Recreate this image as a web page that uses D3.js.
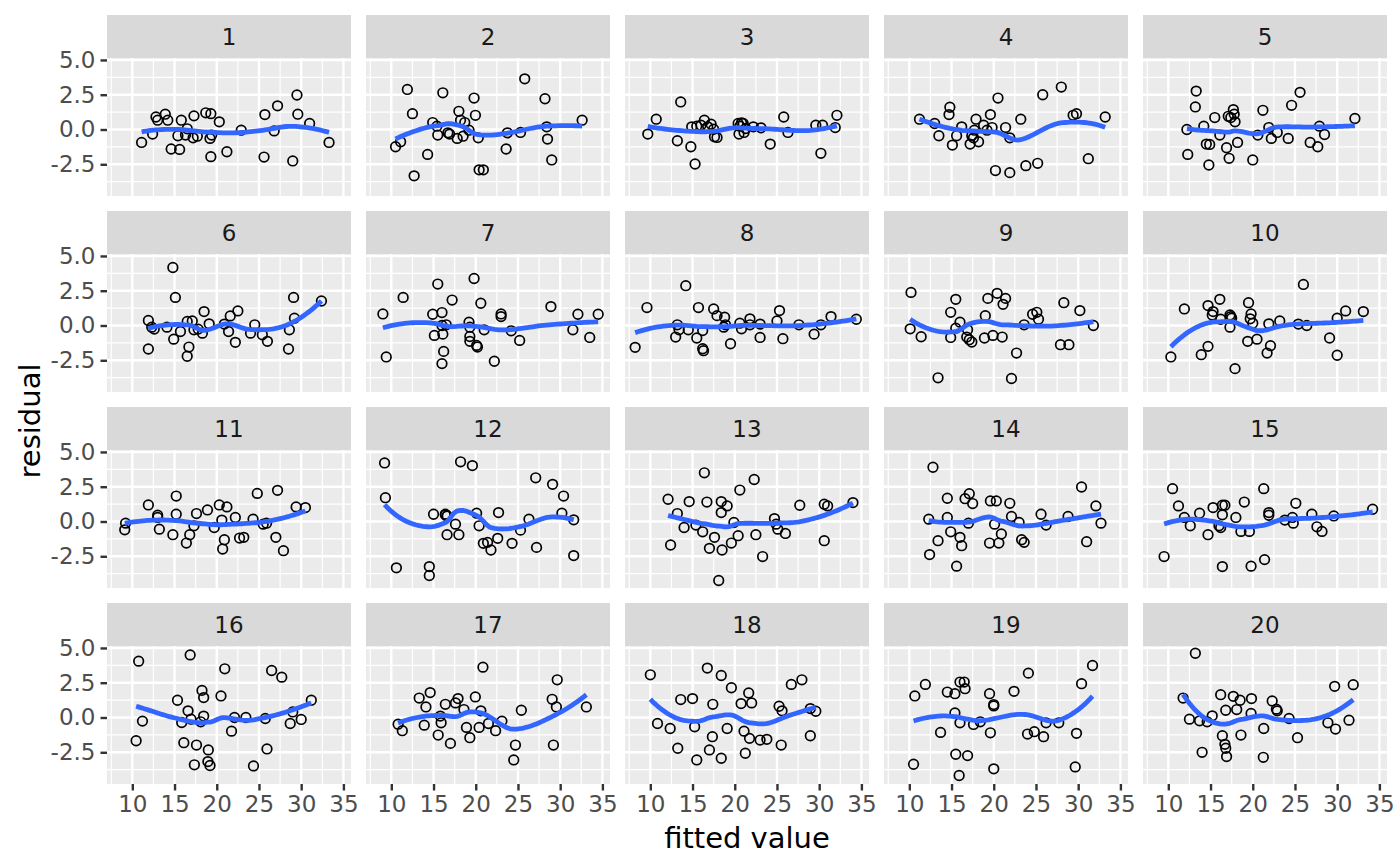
<!DOCTYPE html>
<html>
<head>
<meta charset="utf-8">
<script src="https://cdn.jsdelivr.net/npm/d3@7"></script>
<style>
  html, body { margin: 0; padding: 0; background: #ffffff; }
  svg { display: block; font-family: "DejaVu Sans", sans-serif; }
</style>
</head>
<body>
<svg id="chart" width="1400" height="866"></svg>
<script>
// ---------------- data ----------------
const panelLabels = ["1","2","3","4","5","6","7","8","9","10","11","12","13","14","15","16","17","18","19","20"];

const xTicks = [10, 15, 20, 25, 30, 35];
const xMinorTicks = [7.5, 12.5, 17.5, 22.5, 27.5, 32.5];
const yTicks = [-2.5, 0, 2.5, 5.0];
const yMinorTicks = [-3.75, -1.25, 1.25, 3.75];

const xTitle = "fitted value";
const yTitle = "residual";

const fittedValues = [
  [11.1,12.4,12.8,13.0,13.9,14.2,14.6,15.6,15.4,15.8,16.3,16.5,17.2,17.3,17.7,18.7,19.3,19.2,19.4,19.3,20.3,21.2,22.9,25.6,25.7,26.8,27.2,29.0,29.5,29.6,31.0,33.3],
  [10.5,11.1,11.9,12.5,12.7,14.3,14.9,15.4,15.5,16.1,16.7,16.9,17.8,18.0,18.2,18.5,18.7,19.2,19.8,19.96,20.3,20.4,20.9,23.6,23.75,25.3,25.8,28.2,28.4,28.5,29.0,32.6],
  [9.7,10.7,13.6,13.2,14.8,15.3,14.9,15.5,16.0,16.4,16.8,17.2,17.5,17.6,17.9,20.4,20.6,20.8,20.5,21.1,21.3,22.2,23.1,24.2,25.8,26.3,29.6,30.2,30.4,32.1,31.9,21.0],
  [11.2,13.0,13.5,14.8,14.7,15.1,15.6,16.2,17.2,17.4,17.7,17.9,18.2,18.8,19.2,19.6,19.8,20.5,20.2,21.4,21.9,21.9,23.2,23.8,25.2,25.8,28.0,29.4,29.8,31.2,33.2,17.6],
  [12.2,12.3,13.3,13.2,14.2,14.5,14.9,14.8,15.5,16.1,16.9,17.2,17.1,17.4,17.7,17.8,17.9,18.2,20.0,20.6,21.2,21.9,22.2,22.9,24.2,24.6,25.6,26.8,27.7,27.9,28.5,32.1],
  [11.9,12.3,12.6,11.9,14.1,14.8,15.1,14.9,15.7,16.5,17.1,16.7,16.5,17.3,18.3,18.5,19.1,20.9,21.4,21.6,22.5,22.2,24.0,24.5,25.4,26.0,28.5,28.6,29.1,29.2,32.4,17.8],
  [9.0,9.4,11.4,14.9,15.5,16.0,15.1,16.0,16.1,16.2,16.0,17.2,19.8,19.2,19.3,19.3,19.3,20.1,20.2,20.6,21.0,22.2,23.0,23.0,24.2,25.2,28.9,31.5,32.1,33.5,34.5,16.5],
  [8.2,9.6,13.0,13.2,13.4,14.2,14.5,15.5,15.7,16.2,16.2,16.3,17.5,17.9,18.8,18.7,18.9,19.5,20.6,20.8,21.8,21.8,23.0,23.0,25.0,25.3,25.7,27.6,29.4,30.2,31.4,34.4],
  [10.2,10.1,11.4,13.4,14.9,14.9,15.5,15.5,16.0,16.9,16.8,17.1,17.4,18.9,19.0,19.3,20.4,21.1,21.4,19.9,21.0,22.1,22.7,23.6,24.6,25.1,25.3,27.9,28.9,28.3,30.2,31.8],
  [10.3,11.9,13.9,14.7,14.7,15.3,15.2,16.1,16.2,17.3,17.5,17.3,17.9,19.5,19.8,19.7,20.0,19.4,20.5,21.9,22.1,21.7,23.2,25.4,26.0,26.4,29.1,30.0,30.0,31.0,33.1,17.4],
  [9.2,9.1,11.9,13.0,13.0,13.2,15.2,15.2,14.8,16.4,16.8,17.3,17.6,18.9,19.7,20.3,21.2,20.6,20.9,20.7,22.2,22.7,23.2,24.3,24.8,25.5,25.9,27.2,27.0,27.9,29.4,30.5],
  [9.2,9.3,10.6,14.5,14.5,15.0,16.4,16.6,17.6,16.6,18.0,18.2,19.6,20.1,20.4,20.9,21.4,21.8,22.6,22.7,24.3,25.3,26.3,27.1,27.2,29.1,30.4,30.2,31.6,31.6,16.4,16.6],
  [12.1,13.2,12.4,14.0,14.6,16.4,15.4,16.2,16.7,17.0,17.6,18.1,18.4,18.4,18.5,19.1,19.6,19.9,20.4,20.6,22.3,22.5,23.3,24.7,24.9,25.1,26.0,27.7,30.6,31.0,30.6,34.0],
  [12.3,12.4,12.8,13.4,14.5,14.5,14.9,15.6,16.0,16.2,16.6,17.1,17.5,17.0,19.5,19.6,20.3,20.1,20.6,20.9,21.9,22.1,23.0,23.3,23.6,25.6,26.2,28.8,30.4,31.0,32.1,32.7],
  [9.5,10.5,11.2,11.9,12.6,13.7,14.7,15.3,16.0,16.2,16.4,16.7,16.4,16.4,18.0,18.6,19.0,19.6,19.8,21.3,21.4,21.9,21.9,23.8,24.7,24.8,25.1,27.0,27.6,28.2,29.6,34.2],
  [10.75,10.45,11.2,15.35,16.85,16.6,15.85,16.95,16.1,17.6,17.35,18.25,18.45,18.45,18.1,19.0,18.95,19.2,20.5,20.95,21.75,22.1,23.45,24.35,25.75,25.95,26.5,27.7,28.7,29.0,30.0,31.2],
  [10.8,11.3,13.3,14.6,14.1,13.9,15.55,15.8,15.9,16.4,17.0,17.6,17.9,18.6,18.9,19.3,19.95,20.4,20.6,20.85,21.5,22.35,23.1,24.7,24.5,25.4,29.05,29.2,29.55,29.65,33.1],
  [10.0,10.85,12.35,13.25,13.6,15.0,15.25,15.5,16.75,17.0,17.35,17.4,18.4,18.4,19.1,19.6,20.75,21.1,21.25,21.65,21.75,22.0,23.0,23.8,25.5,25.25,25.6,26.7,27.95,28.95,29.6,28.95],
  [10.5,10.65,11.9,13.7,14.5,15.4,15.4,15.5,15.9,16.0,16.5,16.6,16.0,16.9,17.6,18.4,19.5,20.0,20.0,19.6,20.0,22.4,24.1,24.0,24.8,25.9,26.2,27.7,29.8,29.65,30.4,31.7],
  [11.75,12.5,13.2,13.7,14.0,14.6,15.2,16.2,16.8,16.4,16.7,16.8,16.9,17.7,18.1,18.5,18.6,19.85,19.8,21.3,21.25,22.3,22.8,22.9,24.3,25.3,28.9,29.8,29.7,31.4,31.9]
];

const residuals = [
  [-0.93,-0.33,0.9,0.67,1.1,0.67,-1.4,-1.43,-0.45,0.67,-0.4,0.05,-0.6,0.98,-0.48,1.2,1.14,-0.64,-0.4,-1.95,0.55,-1.6,-0.05,-1.98,1.07,-0.1,1.7,-2.26,2.48,1.1,0.43,-0.93],
  [-1.24,-0.88,2.88,1.14,-3.33,-1.79,0.5,0.24,-0.4,2.64,-0.24,-0.33,-0.64,1.31,0.67,-0.48,0.5,-0.05,2.26,1.02,-0.6,-2.9,-2.9,-1.4,-0.24,-0.21,3.64,2.21,0.19,-0.69,-2.19,0.67],
  [-0.33,0.74,1.98,-0.81,-1.24,-2.48,0.19,0.24,0.31,0.67,0.19,0.38,0.02,-0.52,-0.57,0.43,0.24,0.48,-0.33,-0.21,0.07,0.19,0.12,-1.05,0.9,-0.21,0.31,-1.71,0.31,1.02,0.14,0.43],
  [0.74,0.43,-0.45,1.6,1.07,-1.12,-0.45,0.19,-1.05,-0.45,-0.05,0.74,-0.88,0.31,-0.05,1.07,0.14,2.26,-2.95,0.14,-0.6,-3.1,0.74,-2.6,-2.43,2.5,3.05,1.02,1.14,-2.1,0.9,-0.6],
  [0,-1.79,2.76,1.62,0.24,-1.05,-1.07,-2.55,0.86,-0.4,-1.31,-2.07,0.95,0.86,1.43,1.1,0.55,-0.93,-2.19,-0.4,1.38,0.14,-0.64,-0.21,-0.64,1.74,2.67,-0.93,-1.24,0.24,-0.36,0.79],
  [0.36,-0.12,-0.26,-1.69,-0.12,4.17,2.02,-0.98,-0.43,0.29,0.33,-1.55,-2.21,-0.31,-0.55,1.0,0.12,0.1,-0.43,0.69,1.05,-1.21,-0.55,0.05,-0.67,-1.14,-1.69,-0.31,2.02,0.52,1.76,-0.26],
  [0.83,-2.26,2.02,0.81,2.98,0.93,-0.71,0,-0.62,-1.86,-2.74,1.83,3.38,0.24,-0.12,-0.79,-1.14,-1.43,-1.55,1.6,-0.31,-2.57,0.83,0.64,-0.38,-1.07,1.36,-0.31,0.81,-0.86,0.81,0.05],
  [-1.57,1.29,-0.83,0.05,-0.31,2.86,-0.31,-0.9,1.29,-0.36,-1.67,-1.81,1.19,0.71,0.6,-0.12,0.05,-1.31,0.17,-0.24,0.48,0.05,0.1,-0.86,0.33,1.07,-0.95,0.05,-0.62,0.05,0.64,0.45],
  [2.38,-0.24,-0.81,-3.76,0.95,-0.86,1.88,-0.19,0.24,-0.31,-0.83,-1.02,-1.19,-0.9,0.71,1.95,2.31,1.52,1.95,-0.71,-0.83,-3.81,-1.98,0.05,0.81,0.95,0.45,-1.38,-1.38,1.64,1.07,0],
  [-2.26,1.19,-2.1,1.43,-1.5,1.0,0.76,1.88,0.45,0.76,0.52,-0.12,-3.1,1.64,0.83,0.48,0.17,-1.14,-0.98,0.12,-1.45,-1.98,0.33,0.1,2.95,0,-0.9,0.52,-2.14,1.05,1.0,0.64],
  [-0.12,-0.6,1.19,0.45,0.29,-0.55,1.83,0.52,-0.95,-1.55,-0.95,-0.31,0.57,0.83,-0.43,1.19,1.05,0.1,-1.31,-1.98,0.29,-1.19,-1.14,0.17,2.02,-0.19,-0.12,2.24,-1.14,-2.1,1.05,1.0],
  [4.21,1.71,-3.33,-3.24,-3.88,0.52,0.52,0.4,-0.19,-0.95,-0.95,4.29,4.02,0.6,-0.31,-1.57,-1.5,-2.05,-1.21,0.64,-1.57,-0.62,0.17,3.14,-1.86,2.67,1.83,0.6,0.12,-2.45,0.48,0.4],
  [1.6,0.57,-1.69,-0.43,1.43,3.5,-0.26,-0.74,1.4,-1.93,-1.14,-4.24,1.43,0.64,-2.05,1.12,-1.55,-0.07,-1.02,2.26,3.02,-0.95,-2.52,0.21,-0.19,-0.55,-0.86,1.17,1.24,1.12,-1.38,1.36],
  [0.17,-2.38,3.9,-1.38,1.67,0.29,-0.74,-3.21,-1.14,-1.74,1.64,2.0,1.29,-0.12,-1.55,1.48,1.48,-0.19,-1.55,-0.9,1.31,0.36,-0.07,-1.31,-1.5,0.52,-0.26,0.36,2.48,-1.45,1.12,-0.12],
  [-2.52,2.36,1.12,0.29,-0.31,0.6,-0.95,1.0,-0.31,-0.43,1.17,1.17,0.48,-3.24,0.29,-0.71,1.4,-0.71,-3.21,2.36,-2.74,0.64,0.45,0.1,0.29,-0.12,1.31,0.52,-0.38,-0.71,0.4,0.88],
  [4.05,-1.67,-0.26,1.24,4.5,0.48,-0.36,-0.12,-1.81,-1.98,-3.4,1.95,1.43,0.1,-0.31,-2.33,-3.17,-3.45,1.55,3.5,-0.98,0,0,-3.48,-0.07,-2.26,3.38,2.9,-0.43,0.4,-0.14,1.24],
  [-0.48,-0.95,1.4,1.79,0.76,-0.55,-1.26,0.1,-0.38,0.95,-1.86,1.05,1.36,0.57,-0.71,-1.45,1.48,-0.71,0.48,3.62,-0.43,-0.95,-0.26,-1.98,-3.05,0.52,1.31,-1.98,0.76,2.71,0.76],
  [3.07,-0.43,-0.79,-2.21,1.29,1.36,-0.67,-3.05,3.55,-2.33,-1.38,0.95,3.02,-2.93,-0.79,2.14,1.0,-0.98,-2.57,1.76,-1.5,1.05,-1.62,-1.57,-1.98,0.81,0.48,2.38,2.71,0.64,0.45,-1.31],
  [-3.36,1.55,2.38,-1.07,1.83,1.71,0.33,-2.64,-4.17,2.55,2.55,2.07,-0.38,-2.74,-0.5,-0.31,1.71,0.93,0.83,-1.1,-3.69,1.88,3.19,-1.19,-1.02,-1.38,-0.38,-0.38,-1.14,-3.55,2.43,3.74],
  [1.4,-0.12,4.62,-0.24,-2.5,-0.31,0.12,1.64,0.52,-1.31,-1.93,-2.21,-2.81,1.52,0.57,1.24,-1.26,1.36,0.29,-0.79,-2.86,1.19,0.6,0.48,-0.07,-1.45,-0.38,-0.83,2.24,-0.19,2.36]
];

// ---------------- layout ----------------
const nCols = 5;
const panelLeft0 = 107, panelW = 244, pitchX = 259;
const stripTop0 = 15, stripH = 43, panelH = 138, pitchY = 196;
const nRows = Math.ceil(panelLabels.length / nCols);

const x = d3.scaleLinear().domain([7.0, 35.9]).range([0, panelW]);
const y = d3.scaleLinear().domain([-4.78, 5.14]).range([panelH, 0]);

// ---------------- loess as in R (degree 2, span 0.75, kd-tree vertices + cubic Hermite) ----------------
function localFit(xs, ys, q, x0) {
  const n = xs.length;
  const d = xs.map(v => Math.abs(v - x0));
  const sorted = d.slice().sort((a, b) => a - b);
  let h = sorted[q - 1];
  if (h <= 0) h = 1e-9;
  let s0=0,s1=0,s2=0,s3=0,s4=0,t0=0,t1=0,t2=0;
  for (let i = 0; i < n; i++) {
    const u = d[i] / h;
    if (u >= 1) continue;
    const w = Math.pow(1 - u*u*u, 3);
    const dx = xs[i] - x0, dx2 = dx*dx;
    s0 += w; s1 += w*dx; s2 += w*dx2; s3 += w*dx2*dx; s4 += w*dx2*dx2;
    t0 += w*ys[i]; t1 += w*dx*ys[i]; t2 += w*dx2*ys[i];
  }
  const det3 = M => M[0][0]*(M[1][1]*M[2][2]-M[1][2]*M[2][1])
                  - M[0][1]*(M[1][0]*M[2][2]-M[1][2]*M[2][0])
                  + M[0][2]*(M[1][0]*M[2][1]-M[1][1]*M[2][0]);
  const A = [[s0,s1,s2],[s1,s2,s3],[s2,s3,s4]];
  const D = det3(A);
  const b0 = det3([[t0,s1,s2],[t1,s2,s3],[t2,s3,s4]]) / D;
  const b1 = det3([[s0,t0,s2],[s1,t1,s3],[s2,t2,s4]]) / D;
  return [b0, b1];
}

function loessR(xs, ys, span, xEval) {
  const n = xs.length;
  const q = Math.floor(n * span + 1e-5);
  const fc = Math.floor(n * span * 0.2);
  const sx = xs.slice().sort((a, b) => a - b);
  const lo = sx[0], hi = sx[n - 1];
  const mu = 0.005 * Math.max(hi - lo, 1e-10 * Math.max(Math.abs(lo), Math.abs(hi)) + 1e-30);
  const verts = [lo - mu, hi + mu];
  (function build(l, u, vl, vu) {
    if (u - l + 1 <= fc) return;
    const m = Math.floor((l + u) / 2);
    const v = sx[m];
    if (v === vl || v === vu) return;
    verts.push(v);
    build(l, m, vl, v);
    build(m + 1, u, v, vu);
  })(0, n - 1, lo - mu, hi + mu);
  verts.sort((a, b) => a - b);
  const vv = verts.map(v => localFit(xs, ys, q, v));
  return xEval.map(x0 => {
    let j = 0;
    while (j < verts.length - 2 && x0 > verts[j + 1]) j++;
    const v0 = verts[j], v1 = verts[j + 1], hh = v1 - v0;
    const t = (x0 - v0) / hh;
    const phi0 = (1 - t) * (1 - t) * (1 + 2 * t);
    const phi1 = t * t * (3 - 2 * t);
    const psi0 = t * (1 - t) * (1 - t);
    const psi1 = -t * t * (1 - t);
    return phi0 * vv[j][0] + phi1 * vv[j + 1][0] + (psi0 * vv[j][1] + psi1 * vv[j + 1][1]) * hh;
  });
}

// ---------------- drawing ----------------
const svg = d3.select("#chart");
svg.append("rect").attr("width", 1400).attr("height", 866).attr("fill", "#ffffff");

panelLabels.forEach((label, i) => {
  const col = i % nCols, row = Math.floor(i / nCols);
  const px = panelLeft0 + col * pitchX;
  const stripY = stripTop0 + row * pitchY;
  const py = stripY + stripH;

  // strip
  svg.append("rect").attr("x", px).attr("y", stripY).attr("width", panelW).attr("height", stripH)
    .attr("fill", "#D9D9D9");
  svg.append("text").attr("x", px + panelW / 2).attr("y", stripY + stripH / 2)
    .attr("text-anchor", "middle").attr("dominant-baseline", "central")
    .attr("font-size", 23).attr("fill", "#1A1A1A").text(label);

  const g = svg.append("g").attr("transform", `translate(${px},${py})`);
  g.append("rect").attr("width", panelW).attr("height", panelH).attr("fill", "#EBEBEB");

  // minor grid
  g.selectAll(".vminor").data(xMinorTicks).join("line")
    .attr("x1", d => x(d)).attr("x2", d => x(d)).attr("y1", 0).attr("y2", panelH)
    .attr("stroke", "#ffffff").attr("stroke-width", 1.2);
  g.selectAll(".hminor").data(yMinorTicks).join("line")
    .attr("y1", d => y(d)).attr("y2", d => y(d)).attr("x1", 0).attr("x2", panelW)
    .attr("stroke", "#ffffff").attr("stroke-width", 1.2);
  // major grid
  g.selectAll(".vmajor").data(xTicks).join("line")
    .attr("x1", d => x(d)).attr("x2", d => x(d)).attr("y1", 0).attr("y2", panelH)
    .attr("stroke", "#ffffff").attr("stroke-width", 2.4);
  g.selectAll(".hmajor").data(yTicks).join("line")
    .attr("y1", d => y(d)).attr("y2", d => y(d)).attr("x1", 0).attr("x2", panelW)
    .attr("stroke", "#ffffff").attr("stroke-width", 2.4);

  const xs = fittedValues[i], ys = residuals[i];
  const pts = xs.map((v, k) => [v, ys[k]]);

  g.selectAll("circle.pt").data(pts).join("circle")
    .attr("cx", d => x(d[0])).attr("cy", d => y(d[1])).attr("r", 4.8)
    .attr("fill", "none").attr("stroke", "#000000").attr("stroke-width", 1.7);

  const xmin = d3.min(xs), xmax = d3.max(xs);
  const grid = d3.range(80).map(k => xmin + (xmax - xmin) * k / 79);
  const fit = loessR(xs, ys, 0.75, grid);
  const line = d3.line().x(d => x(d[0])).y(d => y(d[1]));
  g.append("path").datum(grid.map((v, k) => [v, fit[k]]))
    .attr("d", line).attr("fill", "none").attr("stroke", "#3366FF")
    .attr("stroke-width", 4.8).attr("stroke-linejoin", "round");

  // y axis on first column
  if (col === 0) {
    const ax = g.append("g").call(d3.axisLeft(y).tickValues(yTicks)
      .tickFormat(d => d.toFixed(1)).tickSize(6.5).tickPadding(5));
    ax.select(".domain").remove();
    ax.selectAll(".tick line").attr("stroke", "#333333").attr("stroke-width", 2.4);
    ax.selectAll(".tick text").attr("fill", "#4D4D4D").attr("font-size", 23)
      .attr("font-family", "DejaVu Sans");
  }
  // x axis on bottom row
  const isBottom = (i + nCols >= panelLabels.length);
  if (isBottom) {
    const ax = g.append("g").attr("transform", `translate(0,${panelH})`)
      .call(d3.axisBottom(x).tickValues(xTicks).tickFormat(d3.format("d")).tickSize(6.5).tickPadding(5));
    ax.select(".domain").remove();
    ax.selectAll(".tick line").attr("stroke", "#333333").attr("stroke-width", 2.4);
    ax.selectAll(".tick text").attr("fill", "#4D4D4D").attr("font-size", 23)
      .attr("font-family", "DejaVu Sans");
  }
});

// axis titles
const panelsLeft = panelLeft0, panelsRight = panelLeft0 + (nCols - 1) * pitchX + panelW;
const firstPanelTop = stripTop0 + stripH;
const lastPanelBottom = stripTop0 + (nRows - 1) * pitchY + stripH + panelH;

svg.append("text").attr("x", (panelsLeft + panelsRight) / 2).attr("y", 848)
  .attr("text-anchor", "middle").attr("font-size", 29).attr("fill", "#000000").text(xTitle);

svg.append("text")
  .attr("transform", `translate(40,${(firstPanelTop + lastPanelBottom) / 2}) rotate(-90)`)
  .attr("text-anchor", "middle").attr("font-size", 29).attr("fill", "#000000").text(yTitle);
</script>
</body>
</html>
